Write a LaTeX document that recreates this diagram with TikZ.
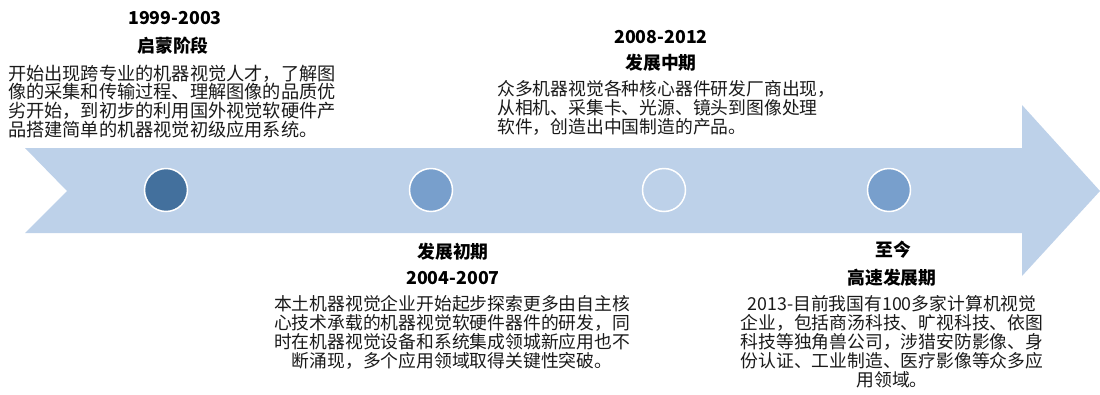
\documentclass[tikz,border=0pt]{standalone}
\usepackage{fontspec}
\setmainfont{Noto Sans CJK SC}
\definecolor{arrowc}{HTML}{BDD1E9}
\definecolor{cdark}{HTML}{43709D}
\definecolor{cmid}{HTML}{789FCC}
\definecolor{txt}{HTML}{1A1A1A}
\begin{document}
\begin{tikzpicture}[x=1pt,y=-1pt,
  body/.style={font=\fontsize{17.8}{19}\selectfont, text=txt, inner sep=0pt},
  ttl/.style={font=\fontsize{17.8}{20}\selectfont\bfseries, text=black, inner sep=0pt},
  dot/.style={circle, draw=white, line width=1.5pt, minimum size=43pt, inner sep=0pt}]
\useasboundingbox (0,0) rectangle (1100,394);
\fill[arrowc] (25,148) -- (1022,148) -- (1022,105) -- (1100,191) -- (1022,276) -- (1022,233) -- (25,233) -- (67,191) -- cycle;
\node[dot, fill=cdark] (d1) at (166,190) {};
\node[dot, fill=cmid] (d2) at (431,190) {};
\node[dot, fill=arrowc] (d3) at (664,190) {};
\node[dot, fill=cmid] (d4) at (889,190) {};
% block 1
\node[ttl] (y1) at (175,18) {1999-2003};
\node[ttl] (s1) at (173,46) {启蒙阶段};
\node[body, font=\fontsize{18.2}{18.9}\selectfont, anchor=north west, align=left] (b1) at (8,64.5) {开始出现跨专业的机器视觉人才，了解图\\像的采集和传输过程、理解图像的品质优\\劣开始，到初步的利用国外视觉软硬件产\\品搭建简单的机器视觉初级应用系统。};
% block 2
\node[ttl] (y2) at (661,37) {2008-2012};
\node[ttl] (s2) at (661,63) {发展中期};
\node[body, anchor=north west, align=left] (b2) at (497,80.5) {众多机器视觉各种核心器件研发厂商出现，\\从相机、采集卡、光源、镜头到图像处理\\软件，创造出中国制造的产品。};
% block 3
\node[ttl] (s3) at (453,252) {发展初期};
\node[ttl] (y3) at (453,278) {2004-2007};
\node[body, anchor=north, align=center] (b3) at (452,295) {本土机器视觉企业开始起步探索更多由自主核\\心技术承载的机器视觉软硬件器件的研发，同\\时在机器视觉设备和系统集成领城新应用也不\\断涌现，多个应用领域取得关键性突破。};
% block 4
\node[ttl] (s4) at (893,250) {至今};
\node[ttl] (y4) at (892,278) {高速发展期};
\node[body, anchor=north, align=center] (b4) at (892,295) {2013-目前我国有100多家计算机视觉\\企业，包括商汤科技、旷视科技、依图\\科技等独角兽公司，涉猎安防影像、身\\份认证、工业制造、医疗影像等众多应\\用领域。};
\end{tikzpicture}
\end{document}
